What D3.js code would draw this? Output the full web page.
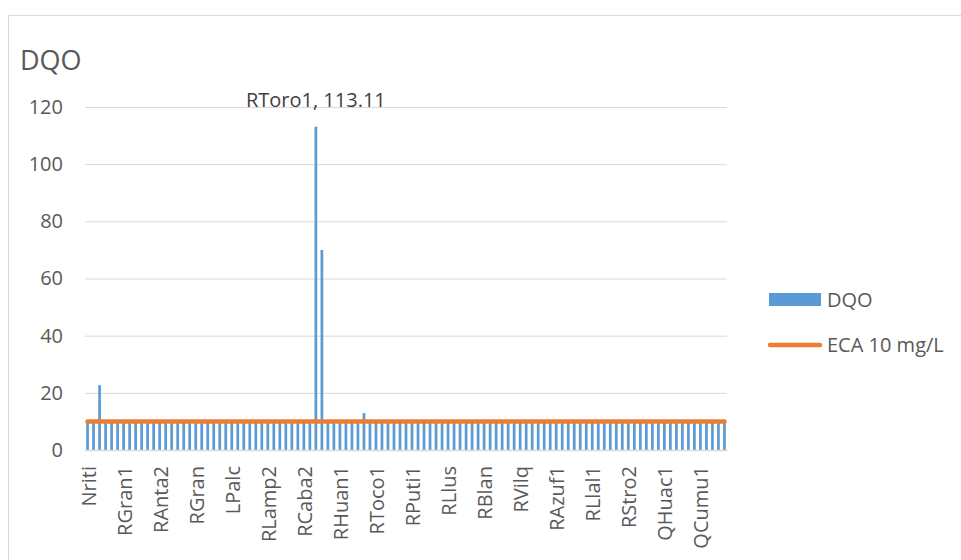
<!DOCTYPE html>
<html>
<head>
<meta charset="utf-8">
<script src="https://cdn.jsdelivr.net/npm/d3@7"></script>
<style>
  html, body { margin: 0; padding: 0; background: #fff; }
  svg { display: block; font-family: "Open Sans", sans-serif; }
</style>
</head>
<body>
<svg id="chart" width="961" height="560"></svg>
<script>
// Monitoring stations (category axis), in sampling order
const categories = [
  "Nriti", "NRiti2", "RSant1", "RSant2", "RGuit1", "RGuit2",
  "RGran1", "RGran2", "RGran3", "RAnta1", "RAnta1a", "RAnta1b",
  "RAnta2", "RAnta3", "RChin1", "RChin2", "RPalc1", "RPalc2",
  "RGran", "RGran4", "RGran5", "LLamp", "LSari", "LMerc",
  "LPalc", "LChac", "RLamp1", "RLamp1a", "RLamp1b", "RLamp1c",
  "RLamp2", "RLamp3", "RCaba1", "RCaba1a", "RCaba1b", "RCaba1c",
  "RCaba2", "RCaba3", "RToro1", "RToro2", "RToro3", "RHuan",
  "RHuan1", "RHuan2", "RHuan3", "RToco", "RToco0", "RToco0a",
  "RToco1", "RToco2", "RToco3", "RPuti", "RPuti0", "RPuti0a",
  "RPuti1", "RPuti2", "RPuti3", "RLlus0", "RLlus1", "RLlus2",
  "RLlus", "RLlus3", "RBlan0", "RBlan1", "RBlan2", "RBlan3",
  "RBlan", "RVilq0", "RVilq1", "RVilq2", "RVilq3", "RVilq4",
  "RVilq", "RAzuf0", "RAzuf0a", "RAzuf0b", "RAzuf0c", "RAzuf0d",
  "RAzuf1", "RAzuf2", "RLlal0", "RLlal0a", "RLlal0b", "RLlal0c",
  "RLlal1", "RLlal2", "RStro0", "RStro0a", "RStro0b", "RStro1",
  "RStro2", "RStro3", "QHuac0", "QHuac0a", "QHuac0b", "QHuac0c",
  "QHuac1", "QHuac2", "QCumu0", "QCumu0a", "QCumu0b", "QCumu0c",
  "QCumu1", "QCumu2", "QCumu3", "QCumu4", "QCumu5"
];

// DQO (mg/L) per station
const dqoValues = [
  10, 10, 22.7, 10, 10, 10,
  10, 10, 10, 10, 10, 10,
  10, 10, 10, 10, 10, 10,
  10, 10, 10, 10, 10, 10,
  10, 10, 10, 10, 10, 10,
  10, 10, 10, 10, 10, 10,
  10, 10, 113.11, 70, 10, 10,
  10, 10, 10, 10, 12.9, 10,
  10, 10, 10, 10, 10, 10,
  10, 10, 10, 10, 10, 10,
  10, 10, 10, 10, 10, 10,
  10, 10, 10, 10, 10, 10,
  10, 10, 10, 10, 10, 10,
  10, 10, 10, 10, 10, 10,
  10, 10, 10, 10, 10, 10,
  10, 10, 10, 10, 10, 10,
  10, 10, 10, 10, 10, 10,
  10, 10, 10, 10, 10
];

// Environmental quality standard (ECA) reference line
const ecaValues = categories.map(() => 10);

// Labelled categories on the x axis
const tickLabels = [
  "Nriti", "RGran1", "RAnta2", "RGran", "LPalc", "RLamp2",
  "RCaba2", "RHuan1", "RToco1", "RPuti1", "RLlus", "RBlan",
  "RVilq", "RAzuf1", "RLlal1", "RStro2", "QHuac1", "QCumu1"
];
const yTicks = [0, 20, 40, 60, 80, 100, 120];

// Highlighted point with a data label
const labelledStation = "RToro1";

const blue = "#5B9BD5";
const orange = "#ED7D31";
const grid = "#d9d9d9";
const textColor = "#595959";

const svg = d3.select("#chart");
const plot = { left: 85, right: 727, top: 107, bottom: 450 };

// Outer chart frame
svg.append("rect")
  .attr("x", 8.5).attr("y", 15.5)
  .attr("width", 1200).attr("height", 1200)
  .attr("fill", "none").attr("stroke", grid);

const x = d3.scaleBand()
  .domain(categories)
  .range([plot.left, plot.right])
  .paddingInner(0.55)
  .paddingOuter(0.2);

const y = d3.scaleLinear()
  .domain([0, 120])
  .range([plot.bottom, plot.top]);

// Horizontal gridlines + y labels
const yAxis = svg.append("g")
  .attr("transform", `translate(${plot.left},0)`)
  .call(d3.axisLeft(y).tickValues(yTicks).tickSize(-(plot.right - plot.left)).tickPadding(22));
yAxis.select(".domain").remove();
yAxis.selectAll(".tick line").attr("stroke", grid).attr("stroke-width", 1);
yAxis.selectAll(".tick text")
  .attr("fill", textColor)
  .style("font-size", "20px")
  .style("font-family", "'Open Sans', sans-serif");

// Bars
svg.append("g")
  .selectAll("rect")
  .data(categories.map((c, i) => ({ c, v: dqoValues[i] })))
  .join("rect")
  .attr("x", d => x(d.c))
  .attr("width", x.bandwidth())
  .attr("y", d => y(d.v))
  .attr("height", d => y(0) - y(d.v))
  .attr("fill", blue);

// X axis
const xAxis = svg.append("g")
  .attr("transform", `translate(0,${plot.bottom})`)
  .call(d3.axisBottom(x).tickValues(tickLabels).tickSize(0));
xAxis.select(".domain").attr("stroke", grid).attr("stroke-width", 1.5);
xAxis.selectAll(".tick text")
  .attr("fill", textColor)
  .style("font-size", "20px")
  .style("font-family", "'Open Sans', sans-serif")
  .attr("transform", "rotate(-90)")
  .attr("text-anchor", "end")
  .attr("x", -16)
  .attr("y", 1)
  .attr("dy", "0.35em");

// ECA line
const line = d3.line()
  .x((d, i) => x(categories[i]) + x.bandwidth() / 2)
  .y(d => y(d));
svg.append("path")
  .datum(ecaValues)
  .attr("d", line)
  .attr("fill", "none")
  .attr("stroke", orange)
  .attr("stroke-width", 4.5)
  .attr("stroke-linecap", "round");

// Data label for the peak
const peakIdx = categories.indexOf(labelledStation);
svg.append("text")
  .attr("x", x(labelledStation) + x.bandwidth() / 2)
  .attr("y", y(dqoValues[peakIdx]) - 20)
  .attr("text-anchor", "middle")
  .attr("fill", "#404040")
  .style("font-size", "20px")
  .text(`${labelledStation}, ${dqoValues[peakIdx]}`);

// Title
svg.append("text")
  .attr("x", 20).attr("y", 70)
  .attr("fill", textColor)
  .style("font-size", "27px")
  .text("DQO");

// Legend
const legend = svg.append("g");
legend.append("rect")
  .attr("x", 769).attr("y", 293)
  .attr("width", 52).attr("height", 13)
  .attr("fill", blue);
legend.append("text")
  .attr("x", 827).attr("y", 300).attr("dy", "0.35em")
  .attr("fill", textColor).style("font-size", "20px")
  .text("DQO");
legend.append("line")
  .attr("x1", 770).attr("x2", 820)
  .attr("y1", 345).attr("y2", 345)
  .attr("stroke", orange).attr("stroke-width", 4.5)
  .attr("stroke-linecap", "round");
legend.append("text")
  .attr("x", 827).attr("y", 345).attr("dy", "0.35em")
  .attr("fill", textColor).style("font-size", "20px")
  .text("ECA 10 mg/L");
</script>
</body>
</html>
